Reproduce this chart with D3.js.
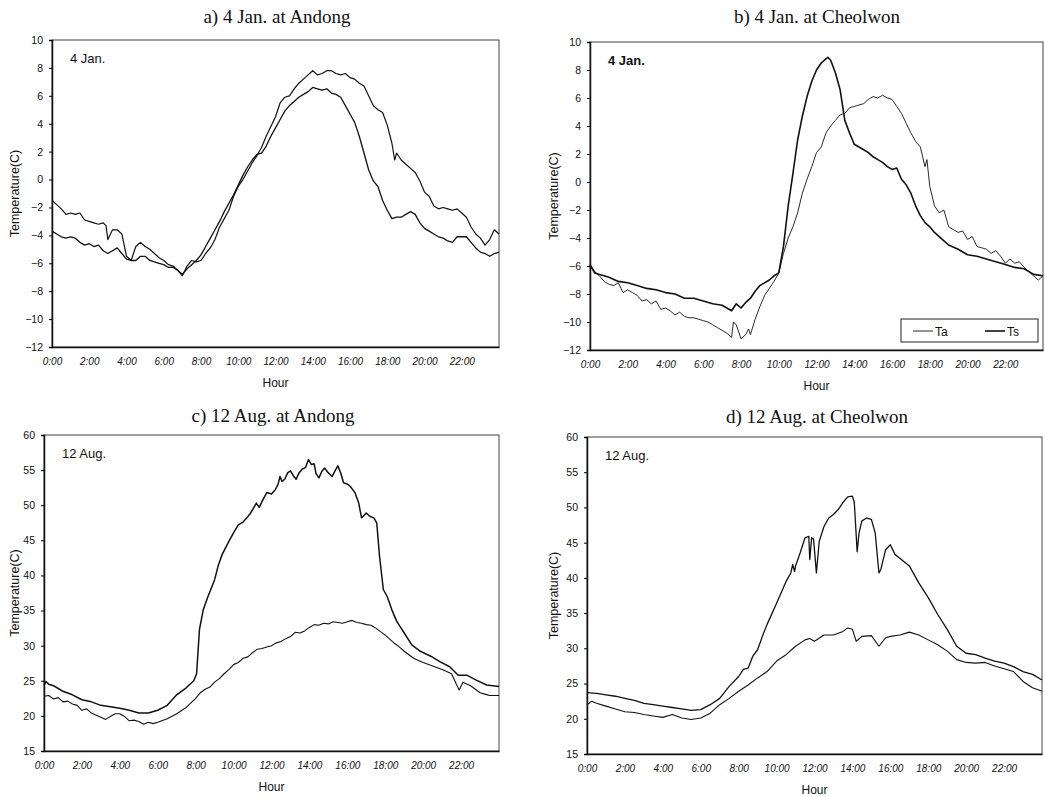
<!DOCTYPE html>
<html><head><meta charset="utf-8">
<script src="https://cdn.jsdelivr.net/npm/d3@7"></script>
<style>body{margin:0;background:#fff}svg{display:block}</style>
</head><body><svg id="c" width="1045" height="797"></svg>
<script>
// ---------- data: [hour, temperature °C] ----------
const hourTicks = [0,2,4,6,8,10,12,14,16,18,20,22];
const hourLabels = ["0:00","2:00","4:00","6:00","8:00","10:00","12:00","14:00","16:00","18:00","20:00","22:00"];
const janTicks = [10,8,6,4,2,0,-2,-4,-6,-8,-10,-12];
const augTicks = [60,55,50,45,40,35,30,25,20,15];

// a) 4 Jan. at Andong
const andongJanUpper = [[0,-1.5],[0.25,-1.8],[0.5,-2.1],[0.75,-2.5],[1,-2.4],[1.25,-2.5],[1.5,-2.4],[1.75,-2.9],[2,-3.0],[2.25,-3.1],[2.5,-3.2],[2.75,-3.1],[2.9,-3.3],[3,-4.3],[3.25,-3.6],[3.5,-3.6],[3.75,-3.9],[4,-5.5],[4.25,-5.8],[4.5,-4.8],[4.75,-4.5],[5,-4.8],[5.25,-5.0],[5.5,-5.3],[5.75,-5.6],[6,-5.8],[6.25,-6.1],[6.5,-6.2],[6.75,-6.5],[7,-6.9],[7.25,-6.2],[7.5,-5.8],[7.75,-5.9],[8,-5.8],[8.25,-5.3],[8.5,-4.9],[8.75,-4.3],[9,-3.4],[9.25,-2.8],[9.5,-2.2],[9.75,-1.2],[10,-0.5],[10.25,0.0],[10.5,0.6],[10.75,1.2],[11,1.7],[11.25,2.3],[11.5,3.1],[11.75,3.8],[12,4.5],[12.25,5.5],[12.5,5.9],[12.75,6.0],[13,6.5],[13.25,6.9],[13.5,7.2],[13.75,7.5],[14,7.8],[14.25,7.5],[14.5,7.6],[14.75,7.8],[15,7.8],[15.25,7.6],[15.5,7.5],[15.75,7.6],[16,7.3],[16.25,7.2],[16.5,6.9],[16.75,6.7],[17,6.0],[17.25,5.3],[17.5,5.0],[17.75,4.8],[18,3.9],[18.25,2.6],[18.4,1.4],[18.5,1.9],[18.75,1.4],[19,1.1],[19.25,0.8],[19.5,0.5],[19.75,-0.1],[20,-0.9],[20.25,-1.2],[20.5,-1.9],[20.75,-2.1],[21,-2.0],[21.25,-2.1],[21.5,-2.2],[21.75,-2.1],[22,-2.4],[22.25,-2.7],[22.5,-3.4],[22.75,-3.9],[23,-4.2],[23.25,-4.7],[23.5,-4.3],[23.75,-3.6],[24,-3.9]];
const andongJanLower = [[0,-3.7],[0.25,-3.9],[0.5,-4.1],[0.75,-4.2],[1,-4.1],[1.25,-4.2],[1.5,-4.5],[1.75,-4.7],[2,-4.6],[2.25,-4.8],[2.5,-4.7],[2.75,-5.1],[3,-5.3],[3.25,-5.1],[3.5,-4.9],[3.75,-5.3],[4,-5.7],[4.25,-5.8],[4.5,-5.8],[4.75,-5.5],[5,-5.5],[5.25,-5.8],[5.5,-5.9],[5.75,-6.0],[6,-6.1],[6.25,-6.3],[6.5,-6.3],[6.75,-6.5],[7,-6.8],[7.25,-6.4],[7.5,-6.1],[7.75,-5.8],[8,-5.4],[8.25,-4.8],[8.5,-4.2],[8.75,-3.6],[9,-3.0],[9.25,-2.3],[9.5,-1.7],[9.75,-1.1],[10,-0.4],[10.25,0.3],[10.5,0.9],[10.75,1.4],[11,1.8],[11.25,1.9],[11.5,2.4],[11.75,3.1],[12,3.7],[12.25,4.3],[12.5,4.9],[12.75,5.3],[13,5.6],[13.25,5.9],[13.5,6.1],[13.75,6.3],[14,6.6],[14.25,6.5],[14.5,6.4],[14.75,6.5],[15,6.2],[15.25,6.1],[15.5,5.9],[15.75,5.3],[16,4.7],[16.25,4.1],[16.5,3.1],[16.75,1.9],[17,0.7],[17.25,-0.1],[17.5,-0.5],[17.75,-1.5],[18,-2.2],[18.25,-2.8],[18.5,-2.7],[18.75,-2.7],[19,-2.5],[19.25,-2.3],[19.5,-2.5],[19.75,-3.1],[20,-3.5],[20.25,-3.7],[20.5,-3.9],[20.75,-4.1],[21,-4.2],[21.25,-4.4],[21.5,-4.5],[21.75,-4.1],[22,-4.1],[22.25,-4.1],[22.5,-4.5],[22.75,-4.9],[23,-5.2],[23.25,-5.3],[23.5,-5.5],[23.75,-5.3],[24,-5.2]];

// b) 4 Jan. at Cheolwon  (Ta thin, Ts thick)
const cheolwonJanTa = [[0,-5.9],[0.25,-6.4],[0.5,-6.7],[0.75,-7.1],[1,-7.3],[1.25,-7.4],[1.5,-7.2],[1.75,-7.9],[2,-7.7],[2.25,-7.9],[2.5,-8.1],[2.75,-8.5],[3,-8.4],[3.25,-8.7],[3.5,-8.5],[3.75,-9.1],[4,-9.0],[4.25,-9.2],[4.5,-9.5],[4.75,-9.3],[5,-9.6],[5.25,-9.7],[5.5,-9.7],[5.75,-9.8],[6,-9.9],[6.25,-10.0],[6.5,-10.2],[6.75,-10.4],[7,-10.6],[7.25,-10.8],[7.5,-11.1],[7.6,-10.0],[7.75,-10.2],[8,-11.2],[8.25,-10.9],[8.4,-10.5],[8.5,-10.9],[8.75,-9.8],[9,-8.9],[9.25,-8.1],[9.5,-7.6],[9.75,-7.1],[10,-6.5],[10.25,-5.1],[10.5,-4.0],[10.75,-3.2],[11,-2.2],[11.25,-0.8],[11.5,0.2],[11.75,1.1],[12,2.1],[12.25,2.5],[12.5,3.5],[12.75,4.0],[13,4.4],[13.25,4.8],[13.5,4.9],[13.75,5.3],[14,5.4],[14.25,5.5],[14.5,5.6],[14.75,5.9],[15,6.1],[15.25,6.0],[15.5,6.2],[15.75,6.0],[16,5.9],[16.25,5.4],[16.5,4.9],[16.75,4.2],[17,3.5],[17.25,2.9],[17.5,2.5],[17.75,1.1],[17.85,1.6],[18,-0.3],[18.25,-1.7],[18.5,-2.2],[18.75,-2.0],[19,-3.2],[19.25,-3.4],[19.5,-3.6],[19.75,-3.5],[20,-4.1],[20.25,-3.9],[20.5,-4.6],[20.75,-4.7],[21,-4.8],[21.25,-5.1],[21.5,-4.9],[21.75,-5.3],[22,-5.8],[22.25,-5.5],[22.5,-5.8],[22.75,-5.7],[23,-6.1],[23.25,-6.4],[23.5,-6.7],[23.75,-7.0],[24,-6.7]];
const cheolwonJanTs = [[0,-5.9],[0.25,-6.5],[0.5,-6.6],[0.75,-6.7],[1,-6.8],[1.5,-7.1],[2,-7.2],[2.5,-7.4],[3,-7.6],[3.5,-7.7],[4,-7.9],[4.5,-8.0],[5,-8.3],[5.5,-8.3],[6,-8.5],[6.5,-8.7],[7,-8.8],[7.25,-9.0],[7.5,-9.2],[7.75,-8.7],[8,-9.0],[8.25,-8.6],[8.5,-8.3],[8.75,-7.8],[9,-7.4],[9.5,-7.0],[9.75,-6.7],[10,-6.5],[10.25,-4.6],[10.5,-1.7],[10.75,0.6],[11,3.0],[11.25,4.7],[11.5,6.1],[11.75,7.2],[12,8.0],[12.25,8.5],[12.5,8.8],[12.6,8.9],[12.75,8.7],[13,7.8],[13.25,6.6],[13.5,4.4],[13.75,3.5],[14,2.7],[14.25,2.5],[14.5,2.3],[14.75,2.1],[15,1.8],[15.25,1.6],[15.5,1.4],[15.75,1.1],[16,0.9],[16.25,1.0],[16.5,0.2],[16.75,-0.2],[17,-0.8],[17.25,-1.7],[17.5,-2.4],[17.75,-2.9],[18,-3.2],[18.25,-3.6],[18.5,-3.9],[18.75,-4.2],[19,-4.5],[19.5,-4.8],[20,-5.2],[20.5,-5.3],[21,-5.5],[21.5,-5.7],[22,-5.9],[22.5,-6.1],[23,-6.2],[23.5,-6.6],[24,-6.7]];

// c) 12 Aug. at Andong
const andongAugUpper = [[0,24.3],[0.1,24.9],[0.25,24.5],[0.5,24.3],[0.75,23.9],[1,23.5],[1.5,23.0],[2,22.3],[2.5,22.0],[3,21.5],[3.5,21.3],[4,21.1],[4.5,20.8],[5,20.4],[5.5,20.4],[6,20.8],[6.5,21.5],[7,23.0],[7.5,24.0],[7.9,25.0],[8.05,26.0],[8.2,32.3],[8.4,35.1],[8.65,37.0],[9,39.4],[9.2,41.5],[9.4,43.0],[9.8,45.1],[10.05,46.3],[10.25,47.2],[10.5,47.6],[10.7,48.2],[10.9,48.9],[11.05,49.6],[11.2,50.3],[11.35,49.7],[11.55,50.8],[11.75,51.8],[12,51.6],[12.2,52.2],[12.35,53.0],[12.45,54.1],[12.55,53.4],[12.7,53.7],[12.85,54.6],[13,54.9],[13.15,54.2],[13.3,53.7],[13.45,54.6],[13.6,55.1],[13.8,55.4],[13.95,56.5],[14.1,55.8],[14.25,55.9],[14.35,54.5],[14.5,53.9],[14.65,54.8],[14.8,55.3],[15,54.6],[15.2,54.1],[15.35,54.9],[15.5,55.6],[15.65,54.6],[15.8,53.2],[16,53.0],[16.15,52.7],[16.4,51.8],[16.6,50.3],[16.75,48.2],[16.9,48.6],[17,48.9],[17.2,48.4],[17.4,48.2],[17.55,47.5],[17.7,42.7],[17.9,38.0],[18.1,37.0],[18.35,35.1],[18.6,33.5],[19,31.8],[19.4,30.1],[19.85,29.2],[20.4,28.5],[20.9,27.7],[21.4,27.0],[21.85,25.8],[22.3,25.8],[22.8,25.1],[23.35,24.4],[24,24.2]];
const andongAugLower = [[0,22.8],[0.25,22.9],[0.5,22.4],[0.75,22.6],[1,22.0],[1.25,22.1],[1.5,21.7],[1.75,21.5],[2,20.8],[2.25,21.0],[2.5,20.4],[2.75,20.1],[3,19.8],[3.25,19.5],[3.5,19.9],[3.75,20.3],[4,20.3],[4.25,19.9],[4.5,19.3],[4.75,19.4],[5,19.2],[5.25,18.8],[5.5,19.1],[5.75,18.9],[6,19.1],[6.5,19.6],[7,20.3],[7.5,21.2],[8,22.5],[8.25,23.3],[8.5,23.8],[8.75,24.1],[9,24.8],[9.25,25.3],[9.5,26.0],[9.75,26.6],[10,27.3],[10.25,27.6],[10.5,28.2],[10.75,28.4],[11,29.0],[11.25,29.5],[11.5,29.6],[11.75,29.8],[12,30.0],[12.25,30.4],[12.5,30.6],[12.75,31.0],[13,31.3],[13.25,31.9],[13.5,31.8],[13.75,32.1],[14,32.6],[14.25,33.0],[14.5,32.9],[14.75,33.2],[15,33.1],[15.25,33.4],[15.5,33.3],[15.75,33.2],[16,33.4],[16.25,33.6],[16.5,33.3],[16.75,33.2],[17,33.0],[17.25,32.9],[17.5,32.5],[17.75,32.0],[18,31.5],[18.25,30.9],[18.5,30.3],[18.75,29.8],[19,29.2],[19.25,28.7],[19.5,28.2],[19.75,27.9],[20,27.6],[20.5,27.1],[21,26.6],[21.5,26.0],[21.75,24.5],[21.9,23.7],[22.1,24.8],[22.5,24.3],[23,23.3],[23.25,23.1],[23.5,22.9],[24,22.9]];

// d) 12 Aug. at Cheolwon
const cheolwonAugUpper = [[0,23.7],[0.5,23.6],[1,23.4],[1.5,23.2],[2,22.9],[2.5,22.6],[3,22.2],[3.5,22.0],[4,21.8],[4.5,21.6],[5,21.4],[5.5,21.2],[6,21.3],[6.5,22.0],[7,22.9],[7.5,24.6],[8,26.0],[8.25,27.0],[8.5,27.2],[8.75,28.9],[9,29.8],[9.25,31.7],[9.5,33.4],[10,36.4],[10.5,39.5],[10.75,40.7],[10.85,41.9],[10.95,40.9],[11,41.7],[11.25,43.6],[11.5,45.7],[11.7,45.9],[11.75,42.6],[11.85,45.7],[11.95,45.5],[12.1,40.7],[12.25,45.2],[12.5,47.3],[12.75,48.5],[13,49.0],[13.25,49.7],[13.5,50.7],[13.75,51.5],[14,51.6],[14.1,50.7],[14.25,43.7],[14.35,46.4],[14.5,48.1],[14.75,48.5],[15,48.3],[15.2,46.4],[15.4,40.7],[15.5,41.2],[15.75,44.0],[16,44.7],[16.25,43.3],[16.5,42.8],[17,41.7],[17.5,39.3],[18,37.2],[18.5,34.8],[19,32.7],[19.5,30.3],[20,29.3],[20.5,29.1],[21,28.6],[21.5,28.2],[22,27.9],[22.5,27.4],[23,26.7],[23.5,26.3],[24,25.5]];
const cheolwonAugLower = [[0,22.0],[0.25,22.5],[0.5,22.2],[1,21.8],[1.5,21.4],[2,21.0],[2.5,20.9],[3,20.6],[3.5,20.4],[4,20.2],[4.5,20.6],[5,20.1],[5.5,19.9],[6,20.1],[6.5,20.8],[7,22.0],[7.5,22.9],[8,23.9],[8.5,24.8],[9,25.8],[9.5,26.7],[10,28.2],[10.5,29.1],[11,30.3],[11.5,31.2],[11.75,31.4],[12,31.0],[12.5,31.9],[13,31.9],[13.5,32.4],[13.75,32.9],[14,32.7],[14.2,31.0],[14.5,31.7],[15,31.8],[15.4,30.3],[15.75,31.5],[16,31.7],[16.5,31.9],[17,32.3],[17.5,31.9],[18,31.2],[18.5,30.5],[19,29.6],[19.5,28.4],[20,28.0],[20.5,27.9],[21,28.0],[21.5,27.5],[22,27.1],[22.5,26.7],[23,25.3],[23.5,24.4],[24,23.9]];

// ---------- drawing ----------
const svg = d3.select("#c");
const sans = "'Liberation Sans', Arial, sans-serif";
const serif = "'Liberation Serif', 'Times New Roman', serif";

const panels = [
  {title:"a) 4 Jan. at Andong", titleX:277, titleY:23, tag:"4 Jan.", tagBold:false, ylabX:15,
   l:52, r:499, t:40, b:347, dom:[-12,10], ticks:janTicks,
   series:[{d:andongJanUpper,w:1.2},{d:andongJanLower,w:1.3}], legend:false},
  {title:"b) 4 Jan. at Cheolwon", titleX:817, titleY:23, tag:"4 Jan.", tagBold:true, ylabX:554,
   l:590, r:1043, t:42, b:350, dom:[-12,10], ticks:janTicks,
   series:[{d:cheolwonJanTa,w:0.9},{d:cheolwonJanTs,w:1.6}], legend:true},
  {title:"c) 12 Aug. at Andong", titleX:273, titleY:422, tag:"12 Aug.", tagBold:false, ylabX:15,
   l:44, r:499, t:435, b:751, dom:[15,60], ticks:augTicks,
   series:[{d:andongAugUpper,w:1.5},{d:andongAugLower,w:1.1}], legend:false},
  {title:"d) 12 Aug. at Cheolwon", titleX:817, titleY:423, tag:"12 Aug.", tagBold:false, ylabX:554,
   l:587, r:1042, t:437, b:754, dom:[15,60], ticks:augTicks,
   series:[{d:cheolwonAugUpper,w:1.3},{d:cheolwonAugLower,w:1.1}], legend:false}
];

panels.forEach(p => {
  const x = d3.scaleLinear().domain([0,24]).range([p.l,p.r]);
  const y = d3.scaleLinear().domain(p.dom).range([p.b,p.t]);
  const g = svg.append("g");

  g.append("text").attr("x",p.titleX).attr("y",p.titleY).attr("text-anchor","middle")
    .attr("font-family",serif).attr("font-size",19).attr("fill","#111").text(p.title);

  // frame
  g.append("rect").attr("x",p.l).attr("y",p.t).attr("width",p.r-p.l).attr("height",p.b-p.t)
    .attr("fill","none").attr("stroke","#444").attr("stroke-width",1);

  // y axis
  const ya = g.append("g").attr("transform",`translate(${p.l},0)`)
    .call(d3.axisLeft(y).tickValues(p.ticks).tickSize(3).tickPadding(6).tickFormat(d3.format("d")));
  ya.select(".domain").attr("stroke","#111").attr("stroke-width",1.5);
  ya.selectAll("text").attr("font-family",sans).attr("font-size",10.5).attr("fill","#111");

  // x axis
  const xa = g.append("g").attr("transform",`translate(0,${p.b})`)
    .call(d3.axisBottom(x).tickValues(hourTicks).tickSize(0).tickPadding(11)
      .tickFormat((d,i)=>hourLabels[i]));
  xa.select(".domain").attr("stroke","#111").attr("stroke-width",1.5);
  xa.selectAll("text").attr("font-family",sans).attr("font-size",10).attr("font-style","italic").attr("fill","#111");

  // axis titles
  g.append("text").attr("x",(p.l+p.r)/2).attr("y",p.b+40).attr("text-anchor","middle")
    .attr("font-family",sans).attr("font-size",12).attr("fill","#111").text("Hour");
  g.append("text").attr("transform",`translate(${p.ylabX+4},${(p.t+p.b)/2}) rotate(-90)`)
    .attr("text-anchor","middle").attr("font-family",sans).attr("font-size",12.5).attr("fill","#111")
    .text("Temperature(C)");

  // inner tag
  g.append("text").attr("x",p.l+18).attr("y",p.t+23).attr("font-family",sans)
    .attr("font-size",13).attr("font-weight",p.tagBold?"bold":"normal").attr("fill","#111").text(p.tag);

  // lines
  const line = d3.line().x(d=>x(d[0])).y(d=>y(d[1]));
  p.series.forEach(s => {
    g.append("path").datum(s.d).attr("d",line).attr("fill","none")
      .attr("stroke","#111").attr("stroke-width",s.w).attr("stroke-linejoin","round");
  });

  if (p.legend) {
    const lg = g.append("g");
    lg.append("rect").attr("x",901).attr("y",319).attr("width",137).attr("height",23)
      .attr("fill","#fff").attr("stroke","#222").attr("stroke-width",1);
    [{lab:"Ta",w:0.9,x0:913},{lab:"Ts",w:1.6,x0:985}].forEach(e=>{
      lg.append("line").attr("x1",e.x0).attr("x2",e.x0+20).attr("y1",331).attr("y2",331)
        .attr("stroke","#111").attr("stroke-width",e.w);
      lg.append("text").attr("x",e.x0+22).attr("y",335.5).attr("font-family",sans)
        .attr("font-size",12).attr("fill","#111").text(e.lab);
    });
  }
});
</script></body></html>
